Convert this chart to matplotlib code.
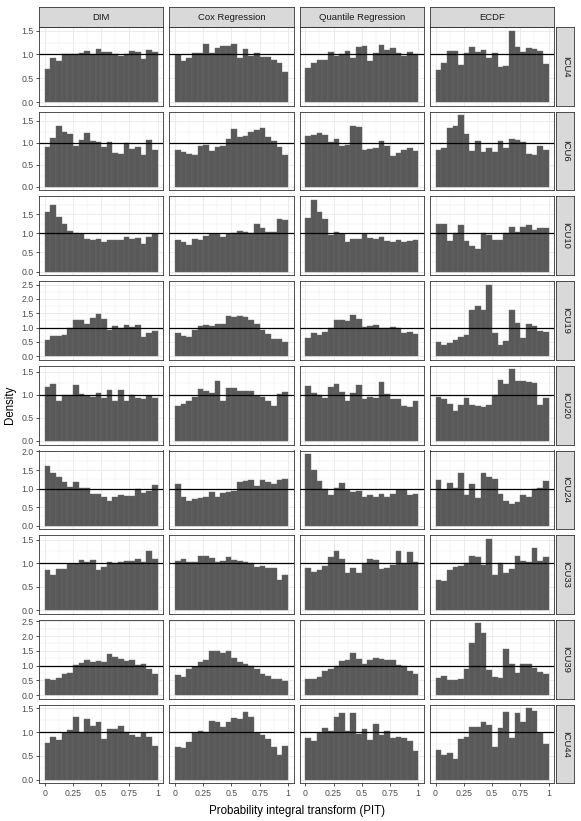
import matplotlib
matplotlib.use('Agg')
import matplotlib.pyplot as plt
import numpy as np

plt.rcParams['font.family'] = ['Liberation Sans', 'DejaVu Sans']

methods = ['DIM', 'Cox Regression', 'Quantile Regression', 'ECDF']
icus = ['ICU4', 'ICU6', 'ICU10', 'ICU19', 'ICU20', 'ICU24', 'ICU33', 'ICU39', 'ICU44']
bin_edges = np.linspace(0, 1, 21)

# density of PIT values in each of the 20 bins, one row per ICU
dim_pit = [
    [0.70, 0.93, 0.86, 1.00, 1.01, 1.01, 1.02, 1.07, 1.01, 1.12, 1.06, 1.05, 1.01, 0.97, 1.01, 1.08, 1.05, 0.91, 1.09, 1.06],
    [0.90, 1.12, 1.38, 1.24, 1.21, 0.92, 1.06, 1.23, 1.05, 1.03, 0.90, 1.01, 0.77, 0.75, 0.99, 0.86, 0.91, 0.72, 1.07, 0.83],
    [1.55, 1.74, 1.43, 1.23, 1.05, 1.01, 0.97, 0.84, 0.83, 0.86, 0.78, 0.83, 0.83, 0.83, 0.89, 0.86, 0.88, 0.71, 0.89, 0.99],
    [0.57, 0.72, 0.72, 0.73, 1.00, 1.27, 1.25, 1.11, 1.33, 1.47, 1.30, 0.91, 1.04, 1.00, 1.08, 1.03, 1.08, 0.67, 0.80, 0.87],
    [1.16, 1.23, 0.87, 1.00, 1.00, 1.21, 1.02, 0.97, 0.95, 1.03, 0.92, 1.11, 0.86, 1.11, 0.87, 1.00, 0.93, 0.90, 0.97, 0.92],
    [1.60, 1.43, 1.30, 1.17, 1.05, 1.17, 1.01, 1.01, 0.85, 0.84, 0.78, 0.67, 0.76, 0.82, 0.80, 0.80, 1.00, 0.89, 0.93, 1.10],
    [0.86, 0.76, 0.88, 0.88, 0.99, 0.98, 1.06, 1.02, 1.06, 0.86, 0.91, 1.03, 1.01, 1.03, 1.04, 1.05, 1.09, 1.02, 1.27, 1.09],
    [0.56, 0.51, 0.59, 0.72, 0.76, 1.02, 1.09, 1.18, 1.11, 1.16, 1.13, 1.38, 1.28, 1.22, 1.16, 1.20, 1.01, 1.06, 0.89, 0.70],
    [0.76, 0.89, 0.83, 0.99, 1.05, 1.31, 1.01, 1.27, 1.13, 1.21, 0.86, 1.07, 1.06, 1.13, 1.00, 0.94, 0.89, 0.98, 0.89, 0.71],
]
cox_pit = [
    [0.99, 0.86, 0.93, 1.02, 1.02, 1.22, 1.02, 1.14, 1.17, 1.17, 1.22, 0.92, 1.11, 0.96, 1.04, 0.94, 0.95, 0.88, 0.82, 0.63],
    [0.83, 0.80, 0.74, 0.73, 0.93, 0.95, 0.81, 0.90, 0.94, 1.08, 1.32, 1.14, 1.15, 1.24, 1.29, 1.35, 1.13, 1.04, 0.91, 0.72],
    [0.83, 0.78, 0.70, 0.85, 0.83, 0.93, 0.99, 0.99, 0.90, 0.98, 1.01, 1.06, 1.04, 1.01, 1.23, 1.14, 1.04, 1.02, 1.38, 1.35],
    [0.82, 0.70, 0.68, 0.91, 1.06, 1.08, 1.07, 1.14, 1.12, 1.41, 1.37, 1.41, 1.38, 1.25, 1.14, 0.92, 0.78, 0.60, 0.59, 0.48],
    [0.76, 0.79, 0.86, 0.95, 1.13, 1.09, 1.04, 1.29, 0.87, 1.14, 1.15, 1.08, 1.08, 1.09, 0.98, 0.95, 0.86, 0.76, 1.02, 1.05],
    [1.11, 0.76, 0.67, 0.73, 0.74, 0.77, 0.91, 0.78, 0.88, 0.91, 0.94, 1.17, 1.20, 1.23, 1.08, 1.24, 1.18, 1.11, 1.23, 1.26],
    [1.05, 1.10, 1.02, 1.03, 1.15, 1.15, 1.11, 1.03, 1.05, 1.13, 1.07, 1.05, 1.02, 1.00, 0.92, 0.95, 0.90, 0.90, 0.65, 0.75],
    [0.69, 0.62, 0.87, 0.96, 1.13, 1.18, 1.49, 1.50, 1.42, 1.49, 1.26, 1.13, 1.06, 0.98, 0.87, 0.72, 0.64, 0.53, 0.53, 0.49],
    [0.69, 0.66, 0.80, 0.98, 1.03, 1.01, 1.24, 1.20, 1.10, 1.22, 1.29, 1.27, 1.41, 1.31, 0.99, 0.94, 0.86, 0.69, 0.52, 0.70],
]
quantile_pit = [
    [0.71, 0.82, 0.89, 0.88, 1.06, 0.96, 1.01, 1.07, 0.92, 1.16, 1.17, 0.86, 1.02, 1.20, 1.10, 1.14, 1.02, 0.97, 1.06, 1.00],
    [1.15, 1.17, 1.23, 1.17, 1.01, 1.08, 0.93, 0.95, 1.38, 1.37, 0.84, 0.87, 0.89, 1.04, 0.93, 0.70, 0.77, 0.83, 0.88, 0.81],
    [1.41, 1.87, 1.55, 1.38, 0.95, 1.02, 0.97, 0.77, 0.85, 0.86, 0.99, 0.87, 0.84, 0.89, 0.81, 0.77, 0.83, 0.77, 0.80, 0.82],
    [0.65, 0.80, 0.75, 0.84, 0.99, 1.27, 1.25, 1.23, 1.43, 1.29, 1.03, 1.06, 1.08, 0.98, 0.97, 1.01, 0.98, 0.80, 0.84, 0.76],
    [1.19, 1.03, 0.99, 0.92, 1.17, 1.24, 1.07, 0.87, 1.04, 1.22, 0.90, 0.95, 0.94, 1.27, 1.01, 0.90, 0.91, 0.76, 0.73, 0.86],
    [1.93, 1.49, 1.21, 1.00, 0.83, 1.02, 1.15, 0.97, 0.92, 0.94, 0.78, 0.83, 0.78, 0.84, 0.78, 0.84, 0.95, 0.97, 0.82, 0.86],
    [0.89, 0.82, 0.86, 0.95, 1.14, 1.27, 1.08, 0.79, 0.90, 0.80, 1.00, 1.10, 1.06, 0.88, 0.89, 0.97, 1.27, 1.01, 1.23, 1.03],
    [0.55, 0.55, 0.61, 0.80, 0.89, 0.99, 1.14, 1.18, 1.43, 1.21, 1.04, 1.20, 1.27, 1.21, 1.19, 1.19, 1.01, 0.98, 0.82, 0.70],
    [0.87, 0.82, 0.98, 1.08, 1.02, 1.31, 1.40, 1.03, 1.40, 0.95, 1.07, 0.84, 1.17, 0.93, 1.02, 0.88, 0.89, 0.88, 0.81, 0.61],
]
ecdf_pit = [
    [0.68, 0.81, 1.07, 1.08, 0.77, 1.02, 1.15, 1.05, 1.09, 0.93, 1.03, 0.74, 0.75, 1.50, 1.16, 1.06, 1.13, 1.11, 1.07, 0.79],
    [0.84, 0.88, 1.34, 1.38, 1.63, 1.20, 0.82, 1.04, 0.79, 0.89, 0.80, 1.04, 0.89, 1.08, 1.07, 1.01, 0.75, 0.72, 0.92, 0.83],
    [1.23, 1.25, 0.79, 1.01, 1.22, 0.79, 0.66, 0.60, 1.00, 0.95, 0.82, 0.82, 1.00, 1.16, 1.04, 1.16, 1.21, 1.08, 1.13, 1.15],
    [0.49, 0.38, 0.47, 0.57, 0.68, 0.75, 1.62, 1.76, 1.61, 2.50, 0.80, 0.38, 0.53, 1.62, 1.16, 0.64, 1.14, 1.04, 0.87, 0.84],
    [0.96, 0.90, 0.79, 0.64, 0.77, 0.93, 0.77, 0.75, 0.74, 0.77, 1.00, 1.32, 1.24, 1.55, 1.30, 1.29, 1.27, 1.25, 0.78, 0.92],
    [1.22, 0.95, 1.14, 1.01, 1.41, 0.83, 1.11, 0.75, 1.43, 1.32, 1.25, 0.85, 0.66, 0.59, 0.65, 0.82, 0.76, 1.00, 1.01, 1.21],
    [0.65, 0.62, 0.85, 0.91, 0.95, 1.01, 1.15, 1.13, 0.96, 1.52, 0.75, 1.01, 0.80, 0.88, 1.16, 1.04, 1.03, 1.32, 1.05, 1.14],
    [0.57, 0.66, 0.52, 0.50, 0.56, 0.90, 1.77, 2.43, 2.10, 0.85, 0.60, 0.57, 1.55, 1.04, 0.74, 1.04, 1.07, 0.92, 0.77, 0.71],
    [0.63, 0.51, 0.56, 0.44, 0.86, 0.89, 1.11, 1.11, 1.22, 1.15, 0.69, 1.08, 1.41, 0.87, 1.40, 1.21, 1.50, 1.44, 0.97, 0.74],
]
all_methods = [dim_pit, cox_pit, quantile_pit, ecdf_pit]

W, H = 581, 821
fig = plt.figure(figsize=(W / 100, H / 100), dpi=100)

# layout in pixels
left0 = 39
pw = 124.3
pgap = 6
top0 = 27
ph = 78.7
vgap = 6
strip_h = 20
strip_w = 18

border = '#333333'
textc = '#4D4D4D'

def px_box(x, y, w, h):
    return [x / W, 1 - (y + h) / H, w / W, h / H]

for r, icu in enumerate(icus):
    row_max = max(max(m[r]) for m in all_methods)
    ylo, yhi = -0.05 * row_max, 1.05 * row_max
    majors = np.arange(0, yhi + 1e-9, 0.5)
    minors = np.arange(0.25, yhi, 0.5)
    y = top0 + r * (ph + vgap)
    for c, meth in enumerate(methods):
        x = left0 + c * (pw + pgap)
        ax = fig.add_axes(px_box(x, y, pw, ph))
        ax.set_xlim(-0.05, 1.05)
        ax.set_ylim(ylo, yhi)
        ax.set_xticks([0, 0.25, 0.5, 0.75, 1])
        ax.set_xticks([0.125, 0.375, 0.625, 0.875], minor=True)
        ax.set_yticks(majors)
        ax.set_yticks(minors, minor=True)
        ax.grid(which='major', color='#EBEBEB', linewidth=0.7)
        ax.grid(which='minor', color='#EBEBEB', linewidth=0.35)
        ax.set_axisbelow(True)
        ax.bar(bin_edges[:-1], all_methods[c][r], width=0.05, align='edge',
               color='#595959', edgecolor='#6b6b6b', linewidth=0.3)
        ax.axhline(1, color='black', linewidth=0.9)
        for s in ax.spines.values():
            s.set_color(border)
            s.set_linewidth(0.6)
        ax.tick_params(which='minor', length=0)
        ax.tick_params(which='major', length=2.5, width=0.6, color=border,
                       labelsize=6.3, labelcolor=textc, pad=1.5)
        if c == 0:
            ax.set_yticklabels(['%.1f' % v for v in majors])
        else:
            ax.set_yticklabels([])
            ax.tick_params(axis='y', length=0)
        if r == len(icus) - 1:
            ax.set_xticklabels(['0', '0.25', '0.5', '0.75', '1'])
        else:
            ax.set_xticklabels([])
            ax.tick_params(axis='x', length=0)

        # column strips
        if r == 0:
            sax = fig.add_axes(px_box(x, top0 - strip_h, pw, strip_h))
            sax.set_facecolor('#D9D9D9')
            sax.set_xticks([])
            sax.set_yticks([])
            for s in sax.spines.values():
                s.set_color(border)
                s.set_linewidth(0.6)
            sax.text(0.5, 0.5, meth, ha='center', va='center', fontsize=6.8,
                     color='#1A1A1A', transform=sax.transAxes)

    # row strips
    xs = left0 + 4 * pw + 3 * pgap + 2
    rax = fig.add_axes(px_box(xs, y, strip_w, ph))
    rax.set_facecolor('#D9D9D9')
    rax.set_xticks([])
    rax.set_yticks([])
    for s in rax.spines.values():
        s.set_color(border)
        s.set_linewidth(0.6)
    rax.text(0.5, 0.5, icu, ha='center', va='center', rotation=270,
             fontsize=6.8, color='#1A1A1A', transform=rax.transAxes)

panels_mid_x = (left0 + (left0 + 4 * pw + 3 * pgap)) / 2
fig.text(panels_mid_x / W, 1 - 811 / H, 'Probability integral transform (PIT)',
         ha='center', va='center', fontsize=8.3)
panels_mid_y = (top0 + top0 + 9 * ph + 8 * vgap) / 2
fig.text(10 / W, 1 - panels_mid_y / H, 'Density', ha='center', va='center',
         rotation=90, fontsize=8.3)

fig.savefig('out.png', dpi=100)
